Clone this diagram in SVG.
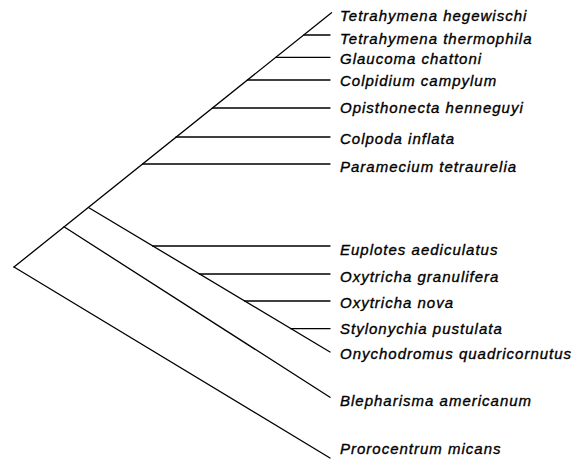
<svg xmlns="http://www.w3.org/2000/svg" width="587" height="470" viewBox="0 0 587 470">
<style>
.br{stroke:#000;stroke-width:1.3;fill:none;stroke-linecap:round}
.lb{font-family:"Liberation Sans",Arial,sans-serif;font-style:italic;font-size:15px;letter-spacing:1px;fill:#000;stroke:#000;stroke-width:0.35}
</style>
<rect width="587" height="470" fill="#fff"/>
<g id="connectors">
<line class="br" x1="14" y1="267" x2="331.5" y2="12.7"/>
<line class="br" x1="304" y1="35" x2="330" y2="35"/>
<line class="br" x1="275.8" y1="57.3" x2="330" y2="57.3"/>
<line class="br" x1="247.5" y1="80" x2="330" y2="80"/>
<line class="br" x1="212.5" y1="108" x2="330" y2="108"/>
<line class="br" x1="176" y1="137" x2="330" y2="137"/>
<line class="br" x1="142.6" y1="164" x2="330" y2="164"/>
<line class="br" x1="88.5" y1="207.5" x2="330" y2="352"/>
<line class="br" x1="152.6" y1="246" x2="330" y2="246"/>
<line class="br" x1="199.5" y1="274" x2="330" y2="274"/>
<line class="br" x1="244.6" y1="301" x2="330" y2="301"/>
<line class="br" x1="290.7" y1="328.7" x2="330" y2="328.7"/>
<line class="br" x1="64" y1="226.8" x2="330" y2="397.3"/>
<line class="br" x1="14" y1="267" x2="330" y2="458"/>
</g>
<g id="n1"><text class="lb" x="340" y="20.5">Tetrahymena hegewischi</text></g>
<g id="n2"><text class="lb" x="340" y="43.5">Tetrahymena thermophila</text></g>
<g id="n3"><text class="lb" x="340" y="63.5">Glaucoma chattoni</text></g>
<g id="n4"><text class="lb" x="340" y="86">Colpidium campylum</text></g>
<g id="n5"><text class="lb" x="340" y="113">Opisthonecta henneguyi</text></g>
<g id="n6"><text class="lb" x="340" y="144">Colpoda inflata</text></g>
<g id="n7"><text class="lb" x="340" y="171.5">Paramecium tetraurelia</text></g>
<g id="n8"><text class="lb" x="340" y="255">Euplotes aediculatus</text></g>
<g id="n9"><text class="lb" x="340" y="282">Oxytricha granulifera</text></g>
<g id="n10"><text class="lb" x="340" y="307.5">Oxytricha nova</text></g>
<g id="n11"><text class="lb" x="340" y="334">Stylonychia pustulata</text></g>
<g id="n12"><text class="lb" x="340" y="359">Onychodromus quadricornutus</text></g>
<g id="n13"><text class="lb" x="340" y="405.5">Blepharisma americanum</text></g>
<g id="n14"><text class="lb" x="340" y="454">Prorocentrum micans</text></g>
</svg>
